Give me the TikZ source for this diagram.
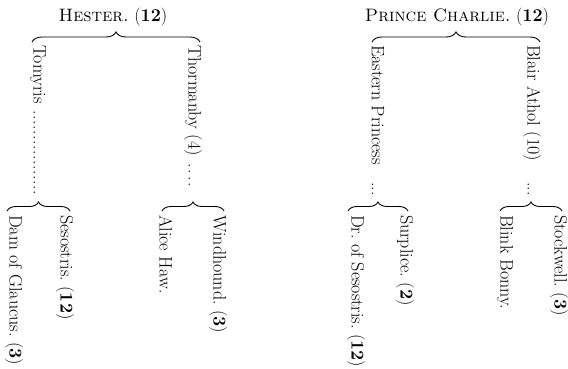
\documentclass[tikz,border=0pt]{standalone}
\usetikzlibrary{decorations.pathreplacing}
\newcommand\dotlead[1]{\leaders\hbox to #1{\hss.\hss}\hfill}
\begin{document}
\frenchspacing
\begin{tikzpicture}[x=1pt,y=-1pt,
  lbl/.style={rotate=-90,anchor=west,inner sep=0pt,font=\fontsize{18}{21}\selectfont},
  ttl/.style={inner sep=0pt,font=\fontsize{18}{21}\selectfont},
  brc/.style={decorate,decoration={brace,amplitude=#1},line width=0.9pt},
]
\useasboundingbox (0,0) rectangle (568,369);

% titles
\node[ttl] (hester) at (113,17) {\textsc{Hester.} (\textbf{12})};
\node[ttl] (charlie) at (457,17) {\textsc{Prince Charlie.} (\textbf{12})};

% top braces
\coordinate (hbL) at (32,42);
\coordinate (hbR) at (200,42);
\draw[brc=10] (hbL) -- (hbR);
\coordinate (cbL) at (372,42);
\coordinate (cbR) at (540,42);
\draw[brc=10] (cbL) -- (cbR);

% second generation
\node[lbl] (tomyris) at (38,45) {\makebox[150pt][l]{Tomyris\hspace{6pt}\dotlead{5pt}}};
\node[lbl] (thormanby) at (193,45) {\makebox[148pt][l]{Thormanby (4)\hspace{3pt}\dotlead{6.5pt}}};
\node[lbl] (eastern) at (378,45) {\makebox[150pt][l]{Eastern Princess\hfill\makebox[13pt][s]{.\hfil.\hfil.}}};
\node[lbl] (blair) at (532,45) {\makebox[150pt][l]{Blair Athol (10)\hfill\makebox[13pt][s]{.\hfil.\hfil.}}};

% lower braces
\coordinate (b1L) at (7,211);
\coordinate (b1R) at (70,211);
\draw[brc=9] (b1L) -- (b1R);
\coordinate (b2L) at (162,211);
\coordinate (b2R) at (224,211);
\draw[brc=9] (b2L) -- (b2R);
\coordinate (b3L) at (348,211);
\coordinate (b3R) at (408,211);
\draw[brc=9] (b3L) -- (b3R);
\coordinate (b4L) at (500,211);
\coordinate (b4R) at (562,211);
\draw[brc=9] (b4L) -- (b4R);

% third generation
\node[lbl] (dam) at (14,215) {Dam of Glaucus. (\textbf{3})};
\node[lbl] (sesostris) at (65,215) {Sesostris. (\textbf{12})};
\node[lbl] (alice) at (166,215) {Alice Haw.};
\node[lbl] (windhound) at (218,215) {Windhound. (\textbf{3})};
\node[lbl] (dr) at (356,215) {Dr. of Sesostris. (\textbf{12})};
\node[lbl] (surplice) at (405,215) {Surplice. (\textbf{2})};
\node[lbl] (blink) at (505,215) {Blink Bonny.};
\node[lbl] (stockwell) at (559,215) {Stockwell. (\textbf{3})};
\end{tikzpicture}
\end{document}
